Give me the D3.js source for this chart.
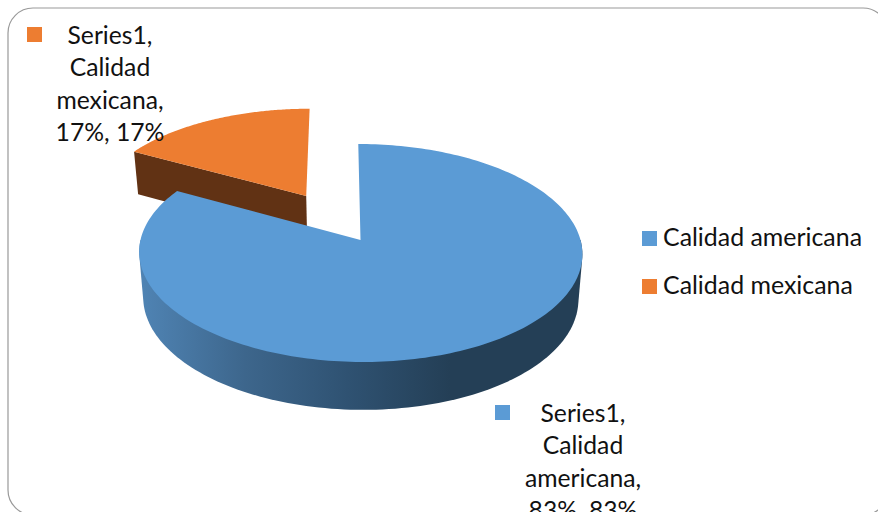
<!DOCTYPE html>
<html>
<head>
<meta charset="utf-8">
<script src="https://cdn.jsdelivr.net/npm/d3@7"></script>
<style>
html, body { margin: 0; padding: 0; background: #fff; overflow: hidden; }
svg { display: block; }
text { font-family: Lato, "Open Sans", sans-serif; fill: #111; }
</style>
</head>
<body>
<svg id="chart" width="878" height="512"></svg>
<script>
const categories = ["Calidad americana", "Calidad mexicana"];
const values = [83, 17];
const colors = ["#5b9bd5", "#ed7d31"];
const sideColors = ["#243f56", "#613214"];
const sideGradientStops = ["#4f83b3", "#3d668c", "#2f5272", "#243f56"];
const exploded = [0, 0.5];
const dataLabels = [
  ["Series1,", "Calidad", "americana,", "83%, 83%"],
  ["Series1,", "Calidad", "mexicana,", "17%, 17%"]
];

const width = 878, height = 512;
const svg = d3.select("#chart");
const defs = svg.append("defs");

// Perspective view of a tilted disc: unit-circle coordinates go through a
// homography, with z running down through the thickness of the pie.
const view = {
  cx: 360.5, cy: 240, ax: 220, ay: -78.8, shear: -2.5, persp: 0.1193,
  depth: 45, depthPersp: 0.06, narrow: 0.018
};
function project(X, Y, z) {
  const w = 1 + view.persp * Y;
  const s = 1 - view.narrow * z;
  return [
    view.cx + (s * view.ax * X + view.shear * Y) / w,
    (view.cy + view.ay * Y) / w + z * view.depth / (1 + view.depthPersp * Y)
  ];
}

const pie = d3.pie().sort(null).startAngle(0).endAngle(2 * Math.PI);
const arcs = pie(values);

function offsetOf(d, i) {
  const mid = (d.startAngle + d.endAngle) / 2;
  return [exploded[i] * Math.sin(mid), exploded[i] * Math.cos(mid)];
}
function rim(d, i, t, z) {
  const [ox, oy] = offsetOf(d, i);
  return project(ox + Math.sin(t), oy + Math.cos(t), z);
}
function apex(d, i, z) {
  const [ox, oy] = offsetOf(d, i);
  return project(ox, oy, z);
}
function angles(a, b, n = 120) {
  return d3.range(n + 1).map(k => a + (b - a) * k / n);
}

const line = d3.line();

// Shading along the front wall of the large slice
const x1 = 143, x2 = 450;
const grad = defs.append("linearGradient")
  .attr("id", "sideShade")
  .attr("gradientUnits", "userSpaceOnUse")
  .attr("x1", x1).attr("x2", x2).attr("y1", 0).attr("y2", 0);
sideGradientStops.forEach((c, k) => {
  grad.append("stop")
    .attr("offset", k / (sideGradientStops.length - 1))
    .attr("stop-color", c);
});

const pieLayer = svg.append("g");

// Smaller slice sits behind: cut wall first, then the top face
{
  const i = 1, d = arcs[i];
  pieLayer.append("path")
    .attr("d", line([
      rim(d, i, d.startAngle, 0), apex(d, i, 0),
      apex(d, i, 1), rim(d, i, d.startAngle, 1)
    ]) + "Z")
    .attr("fill", sideColors[i]);
  pieLayer.append("path")
    .attr("d", line([apex(d, i, 0), ...angles(d.startAngle, d.endAngle).map(t => rim(d, i, t, 0))]) + "Z")
    .attr("fill", colors[i]);
}

// Larger slice: the front half of the disc swept through its thickness gives
// the curved wall, and the top face goes over it
{
  const i = 0, d = arcs[i];
  const front = angles(Math.PI / 2, 3 * Math.PI / 2);
  const wall = d3.polygonHull([
    ...front.map(t => rim(d, i, t, 0)),
    ...front.map(t => rim(d, i, t, 1))
  ]);
  pieLayer.append("path")
    .attr("d", line(wall) + "Z")
    .attr("fill", "url(#sideShade)");
  pieLayer.append("path")
    .attr("d", line([apex(d, i, 0), ...angles(d.startAngle, d.endAngle, 240).map(t => rim(d, i, t, 0))]) + "Z")
    .attr("fill", colors[i]);
}

// Data labels with their colour keys
const labelPlacement = [
  { key: [495, 405], cx: 583, y: 422 },
  { key: [27, 27], cx: 110, y: 44 }
];
const labelGap = 32.4;
dataLabels.forEach((lines, i) => {
  const p = labelPlacement[i];
  svg.append("rect")
    .attr("x", p.key[0]).attr("y", p.key[1])
    .attr("width", 15).attr("height", 15)
    .attr("fill", colors[i]);
  svg.append("g").selectAll("text").data(lines).join("text")
    .attr("x", p.cx)
    .attr("y", (s, k) => p.y + k * labelGap)
    .attr("text-anchor", "middle")
    .attr("font-size", 24.7)
    .text(s => s);
});

// Legend
const legendY = d3.scalePoint().domain(categories).range([238.5, 286.5]);
const legend = svg.append("g").selectAll("g").data(categories).join("g");
legend.append("rect")
  .attr("x", 642).attr("y", c => legendY(c) - 7.5)
  .attr("width", 15).attr("height", 15)
  .attr("fill", (c, i) => colors[i]);
legend.append("text")
  .attr("x", 663).attr("y", c => legendY(c) + 7.5)
  .attr("font-size", 24.9)
  .text(c => c);

// Chart frame with rounded corners, running past the right and bottom edges
svg.append("rect")
  .attr("x", 8).attr("y", 8)
  .attr("width", 880).attr("height", 507)
  .attr("rx", 25).attr("ry", 25)
  .attr("fill", "none")
  .attr("stroke", "#999")
  .attr("stroke-width", 1.2);
</script>
</body>
</html>
